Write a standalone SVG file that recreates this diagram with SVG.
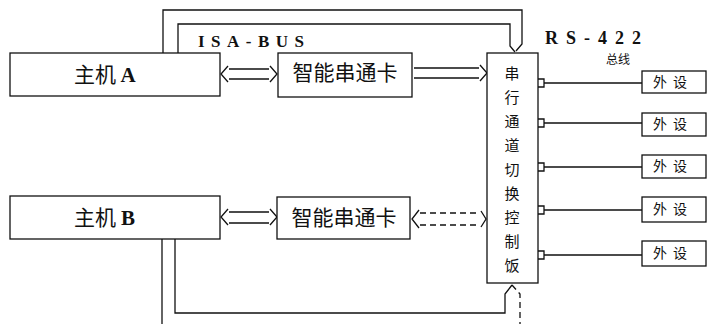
<svg xmlns="http://www.w3.org/2000/svg" width="717" height="324" viewBox="0 0 717 324">
<defs>
<style>
.box{fill:#fff;stroke:#111;stroke-width:1.3}
.ln{fill:none;stroke:#111;stroke-width:1.3}
.dash{fill:none;stroke:#111;stroke-width:1.3;stroke-dasharray:6 4}
.cj{font-family:"Noto Sans CJK SC","Noto Sans",sans-serif;fill:#111}
.lat{font-family:"Liberation Serif","DejaVu Serif",serif;font-weight:bold;fill:#111}
</style>
</defs>
<rect width="717" height="324" fill="#fff"/>

<g id="connectors">
<!-- ISA-BUS outer and inner lines -->
<path class="ln" d="M163,53 V10 H522 V44 L516,51"/>
<path class="ln" d="M178,53 V24 H510 V46 L515,52"/>
<!-- host A <-> card A -->
<path class="ln" d="M229,69 H269 M229,79 H269 M228,66 L221,74 L228,82 M270,66 L277,74 L270,82"/>
<!-- card A -> board -->
<path class="ln" d="M414,68 H479 M414,78 H479 M480,65 L487,73 L480,81"/>
<!-- host B <-> card B -->
<path class="ln" d="M229,212 H269 M229,223 H269 M228,209 L221,217 L228,225 M270,209 L277,217 L270,225"/>
<!-- card B <-> board -->
<path class="dash" d="M420,213 H480 M420,225 H480"/>
<path class="ln" d="M419,210 L412,219 L419,228 M481,211 L486,219 L481,227"/>
<!-- host B bottom lines -->
<path class="ln" d="M162,239 V324"/>
<path class="ln" d="M175,239 V313 H505 V294 L512,285"/>
<path class="dash" d="M512,285 L520,294 V324"/>
<!-- board to peripherals -->
<path class="ln" d="M538,79 H544 V87 H538 M544,83 H642"/>
<path class="ln" d="M538,119 H544 V127 H538 M544,123 H642"/>
<path class="ln" d="M538,163 H544 V171 H538 M544,167 H642"/>
<path class="ln" d="M538,206 H544 V214 H538 M544,210 H642"/>
<path class="ln" d="M538,251 H544 V259 H538 M544,255 H642"/>
</g>

<g id="hostA">
<rect class="box" x="10" y="53" width="210" height="43"/>
<text class="cj" x="95" y="82" font-size="21" text-anchor="middle">主机</text>
<text class="lat" x="128" y="82" font-size="21" text-anchor="middle">A</text>
</g>

<g id="hostB">
<rect class="box" x="10" y="196" width="210" height="43"/>
<text class="cj" x="95" y="225" font-size="21" text-anchor="middle">主机</text>
<text class="lat" x="128" y="225" font-size="21" text-anchor="middle">B</text>
</g>

<g id="cardA">
<rect class="box" x="278" y="53" width="134" height="44"/>
<text class="cj" x="345" y="80" font-size="21" text-anchor="middle">智能串通卡</text>
</g>

<g id="cardB">
<rect class="box" x="277" y="197" width="133" height="42"/>
<text class="cj" x="344" y="225" font-size="21" text-anchor="middle">智能串通卡</text>
</g>

<g id="board">
<rect class="box" x="487" y="53" width="51" height="230"/>
<g class="cj" font-size="15" text-anchor="middle">
<text x="512" y="79">串</text>
<text x="512" y="103">行</text>
<text x="512" y="127">通</text>
<text x="512" y="151">道</text>
<text x="512" y="175">切</text>
<text x="512" y="199">换</text>
<text x="512" y="223">控</text>
<text x="512" y="247">制</text>
<text x="512" y="271">饭</text>
</g>
</g>

<g id="labels">
<text class="lat" x="198" y="47" font-size="17" letter-spacing="6.5">ISA-BUS</text>
<text class="lat" x="545" y="44" font-size="18" letter-spacing="8">RS-422</text>
<text class="cj" x="618" y="64" font-size="12" text-anchor="middle">总线</text>
</g>

<g id="dev1"><rect class="box" x="642" y="71" width="64" height="22"/><text class="cj" x="673" y="87" font-size="14" letter-spacing="6" text-anchor="middle">外设</text></g>
<g id="dev2"><rect class="box" x="642" y="113" width="64" height="23"/><text class="cj" x="673" y="129" font-size="14" letter-spacing="6" text-anchor="middle">外设</text></g>
<g id="dev3"><rect class="box" x="642" y="155" width="64" height="23"/><text class="cj" x="673" y="171" font-size="14" letter-spacing="6" text-anchor="middle">外设</text></g>
<g id="dev4"><rect class="box" x="642" y="197" width="64" height="25"/><text class="cj" x="673" y="214" font-size="14" letter-spacing="6" text-anchor="middle">外设</text></g>
<g id="dev5"><rect class="box" x="642" y="241" width="64" height="25"/><text class="cj" x="673" y="258" font-size="14" letter-spacing="6" text-anchor="middle">外设</text></g>
</svg>
